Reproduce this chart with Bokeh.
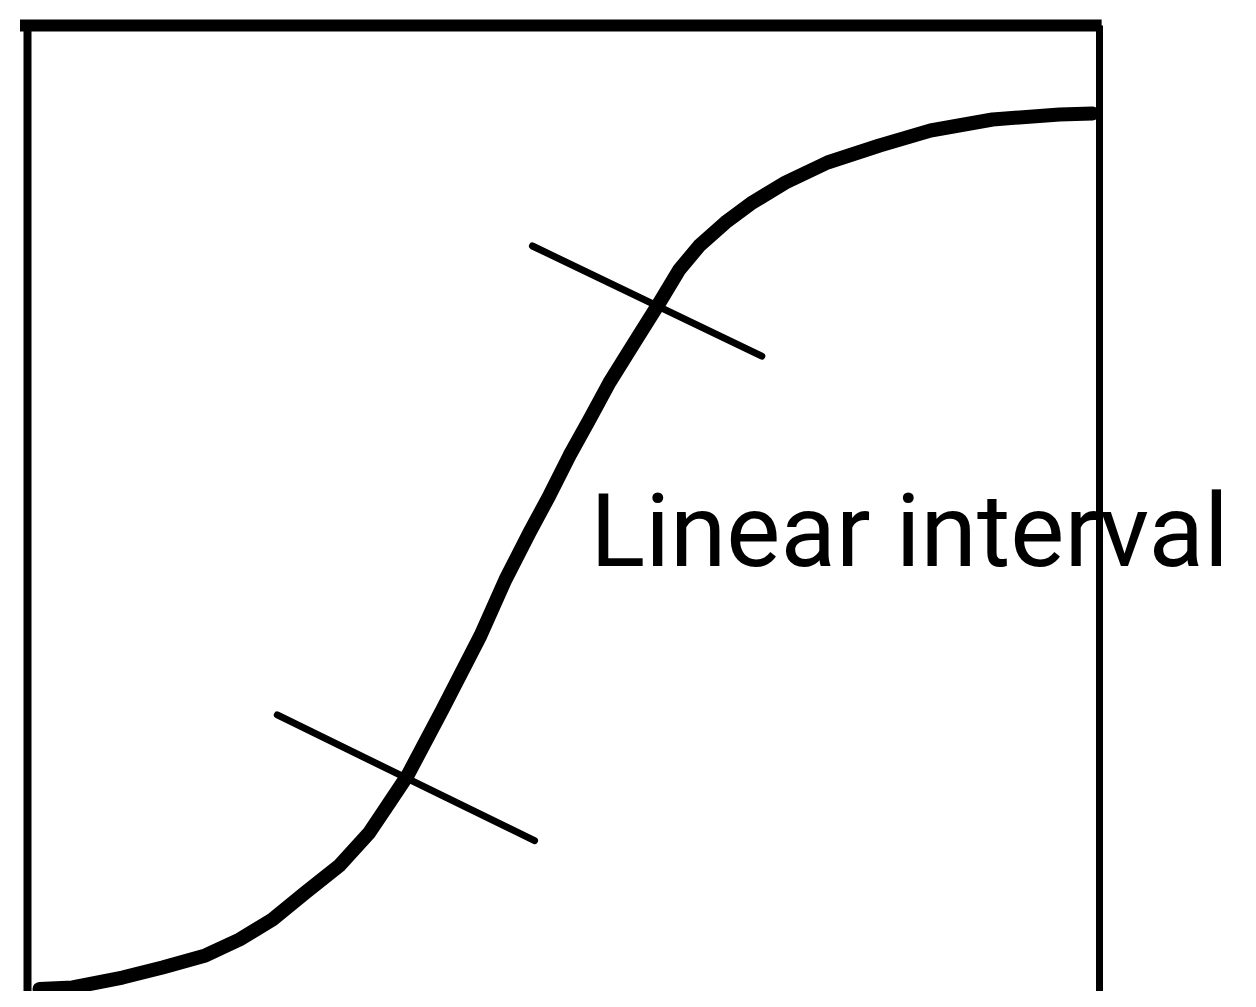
from bokeh.plotting import figure
from bokeh.models import Range1d
from bokeh.embed import file_html
from bokeh.resources import INLINE
from bokeh.core.properties import value

# Sigmoid response curve (box units: x 0..100, y 0..100)
curve_x = [1.12, 4.20, 8.86, 12.59, 16.60, 19.78, 22.85, 25.93, 29.10, 31.90,
           33.77, 35.45, 38.71, 42.26, 44.59, 46.83, 48.69, 50.56, 52.43, 54.29,
           56.44, 58.96, 60.82, 62.69, 65.11, 67.63, 70.71, 74.63, 79.48, 84.24,
           90.02, 96.27, 99.35]
curve_y = [0.36, 0.52, 1.55, 2.59, 3.83, 5.48, 7.55, 10.34, 13.13, 16.55,
           19.65, 22.44, 29.27, 36.92, 42.71, 47.57, 51.40, 55.53, 59.26, 63.08,
           66.91, 71.35, 74.77, 77.25, 79.63, 81.70, 83.76, 85.83, 87.59, 89.14,
           90.28, 90.80, 90.90]

# Tick marks bounding the linear interval
upper_tick_x = [47.1, 68.5]
upper_tick_y = [77.2, 65.8]
lower_tick_x = [23.3, 47.3]
lower_tick_y = [28.7, 15.7]

label_text = ["Linear interval"]
label_x = [52.5]
label_y = [47.75]

# Layout: pixel scale of box units
W, H = 1240, 991
px_x = 10.72
px_y = 9.67
box_left_px = 27     # canvas px of x=0
box_bottom_px = 992  # canvas px of y=0 (from top)

x0 = -box_left_px / px_x
x1 = (W - box_left_px) / px_x
y1 = box_bottom_px / px_y
y0 = -(H - box_bottom_px) / px_y

p = figure(width=W, height=H, output_backend="svg", toolbar_location=None,
           x_range=Range1d(x0, x1), y_range=Range1d(y0, y1),
           min_border=0, min_border_left=0, min_border_right=0,
           min_border_top=0, min_border_bottom=0)
p.axis.visible = False
p.grid.visible = False
p.outline_line_color = None
p.background_fill_color = "white"
p.border_fill_color = "white"

# Box frame
p.line([0, 0], [-5, 100], line_color="black", line_width=8)
p.line([-0.7, 100.2], [100, 100], line_color="black", line_width=12)
p.line([100, 100], [-5, 100], line_color="black", line_width=7)

# Curve
p.line(curve_x, curve_y, line_color="black", line_width=14,
       line_join="round", line_cap="round")

# Ticks
p.line(upper_tick_x, upper_tick_y, line_color="black", line_width=7, line_cap="round")
p.line(lower_tick_x, lower_tick_y, line_color="black", line_width=7, line_cap="round")

p.text(x=label_x, y=label_y, text=label_text, text_font=value("Roboto"),
       text_font_size="102px", text_color="black", text_baseline="alphabetic",
       text_align="left")

open("out.html", "w").write(file_html(p, INLINE))
